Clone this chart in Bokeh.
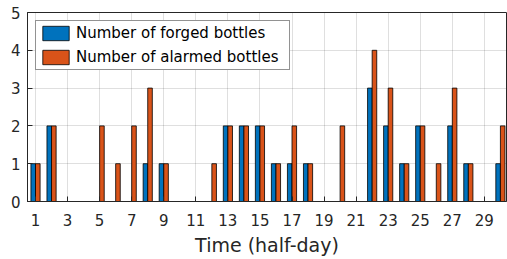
from bokeh.plotting import figure
from bokeh.models import ColumnDataSource, FixedTicker, Range1d
from bokeh.transform import dodge
from bokeh.embed import file_html
from bokeh.resources import INLINE

# ---- data ----
time = list(range(1, 31))
forged = [1, 2, 0, 0, 0, 0, 0, 1, 1, 0, 0, 0, 2, 2, 2, 1, 1, 1, 0, 0, 0, 3, 2, 1, 2, 0, 2, 1, 0, 1]
alarmed = [1, 2, 0, 0, 2, 1, 2, 3, 1, 0, 0, 1, 2, 2, 2, 1, 2, 1, 0, 2, 0, 4, 3, 1, 2, 1, 3, 1, 0, 2]
x_ticks = list(range(1, 30, 2))
y_ticks = [0, 1, 2, 3, 4, 5]

FONT = "DejaVu Sans"
AX = "#262626"
BLUE = "#0072BD"
ORANGE = "#D95319"

src = ColumnDataSource(dict(time=time, forged=forged, alarmed=alarmed))

p = figure(width=507, height=259, output_backend="svg", toolbar_location=None,
           x_range=Range1d(0.5, 30.38), y_range=Range1d(0, 5),
           min_border_left=27, min_border_right=1, min_border_top=12, min_border_bottom=0)
p.frame_width = 479
p.frame_height = 189

p.vbar(x=dodge("time", -0.143, range=p.x_range), top="forged", width=0.286, source=src,
       fill_color=BLUE, line_color="black", line_width=0.8, legend_label="Number of forged bottles")
p.vbar(x=dodge("time", 0.143, range=p.x_range), top="alarmed", width=0.286, source=src,
       fill_color=ORANGE, line_color="black", line_width=0.8, legend_label="Number of alarmed bottles")

# axes
for ax in (p.xaxis[0], p.yaxis[0]):
    ax.axis_line_color = AX
    ax.major_tick_line_color = AX
    ax.major_tick_in = 5
    ax.major_tick_out = 0
    ax.minor_tick_line_color = None
    ax.major_label_text_font = FONT
    ax.major_label_text_font_size = "15px"
    ax.major_label_text_color = AX

p.xaxis[0].ticker = FixedTicker(ticks=x_ticks)
p.yaxis[0].ticker = FixedTicker(ticks=y_ticks)
p.xaxis[0].major_label_standoff = 12
p.yaxis[0].major_label_standoff = 7
p.xaxis[0].axis_label = "Time (half-day)"
p.xaxis[0].axis_label_text_font = FONT
p.xaxis[0].axis_label_text_font_size = "19px"
p.xaxis[0].axis_label_text_font_style = "normal"
p.xaxis[0].axis_label_text_color = AX
p.xaxis[0].axis_label_standoff = 5

p.xgrid.ticker = FixedTicker(ticks=x_ticks)
p.ygrid.ticker = FixedTicker(ticks=y_ticks)
p.grid.grid_line_color = AX
p.grid.grid_line_alpha = 0.15
p.outline_line_color = AX
p.outline_line_alpha = 1

# legend
lg = p.legend[0]
lg.location = "top_left"
lg.margin = 8
lg.padding = 3
lg.spacing = 6
lg.glyph_width = 33
lg.glyph_height = 18
lg.label_height = 18
lg.label_standoff = 4
lg.label_width = 210
lg.label_text_font = FONT
lg.label_text_font_size = "15px"
lg.label_text_color = "black"
lg.border_line_color = AX
lg.border_line_width = 1
lg.background_fill_alpha = 1

open("out.html", "w").write(file_html(p, INLINE))
